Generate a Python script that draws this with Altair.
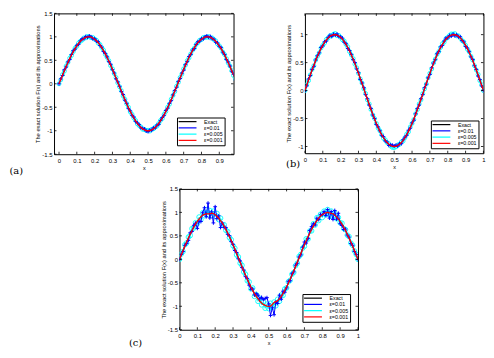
import altair as alt
import pandas as pd

# ---------------- data ----------------
x_vals = [0.00, 0.01, 0.02, 0.03, 0.04, 0.05, 0.06, 0.07, 0.08, 0.09,
          0.10, 0.11, 0.12, 0.13, 0.14, 0.15, 0.16, 0.17, 0.18, 0.19,
          0.20, 0.21, 0.22, 0.23, 0.24, 0.25, 0.26, 0.27, 0.28, 0.29,
          0.30, 0.31, 0.32, 0.33, 0.34, 0.35, 0.36, 0.37, 0.38, 0.39,
          0.40, 0.41, 0.42, 0.43, 0.44, 0.45, 0.46, 0.47, 0.48, 0.49,
          0.50, 0.51, 0.52, 0.53, 0.54, 0.55, 0.56, 0.57, 0.58, 0.59,
          0.60, 0.61, 0.62, 0.63, 0.64, 0.65, 0.66, 0.67, 0.68, 0.69,
          0.70, 0.71, 0.72, 0.73, 0.74, 0.75, 0.76, 0.77, 0.78, 0.79,
          0.80, 0.81, 0.82, 0.83, 0.84, 0.85, 0.86, 0.87, 0.88, 0.89,
          0.90, 0.91, 0.92, 0.93, 0.94, 0.95, 0.96, 0.97, 0.98, 0.99, 1.00]

exact = [0.000, 0.094, 0.187, 0.279, 0.368, 0.454, 0.536, 0.613, 0.685, 0.750,
         0.809, 0.861, 0.905, 0.941, 0.969, 0.988, 0.998, 1.000, 0.992, 0.976,
         0.951, 0.918, 0.876, 0.827, 0.771, 0.707, 0.637, 0.562, 0.482, 0.397,
         0.309, 0.218, 0.125, 0.031, -0.063, -0.156, -0.249, -0.339, -0.426, -0.509,
         -0.588, -0.661, -0.729, -0.790, -0.844, -0.891, -0.930, -0.960, -0.982, -0.996,
         -1.000, -0.996, -0.982, -0.960, -0.930, -0.891, -0.844, -0.790, -0.729, -0.661,
         -0.588, -0.509, -0.426, -0.339, -0.249, -0.156, -0.063, 0.031, 0.125, 0.218,
         0.309, 0.397, 0.482, 0.562, 0.637, 0.707, 0.771, 0.827, 0.876, 0.918,
         0.951, 0.976, 0.992, 1.000, 0.998, 0.988, 0.969, 0.941, 0.905, 0.861,
         0.809, 0.750, 0.685, 0.613, 0.536, 0.454, 0.368, 0.279, 0.187, 0.094, 0.000]

# deviations of the approximations from the exact curve, panel (a)
a_blue_dev = [0.00, 0.01, -0.01, 0.02, -0.01, 0.01, -0.02, 0.01, 0.02, -0.01,
              0.01, -0.02, 0.01, 0.02, -0.01, 0.02, -0.01, 0.02, 0.01, -0.02,
              0.01, -0.01, 0.02, -0.01, 0.01, -0.02, 0.01, 0.01, -0.01, 0.02,
              -0.01, 0.01, -0.02, 0.01, 0.01, -0.01, 0.02, -0.01, 0.01, -0.02,
              0.01, -0.01, 0.02, -0.01, 0.01, 0.02, -0.01, 0.01, 0.02, -0.01,
              -0.02, 0.01, -0.01, 0.02, -0.01, 0.01, -0.02, 0.01, 0.01, -0.01,
              0.02, -0.01, 0.01, -0.02, 0.01, 0.01, -0.01, 0.02, -0.01, 0.01,
              -0.02, 0.01, -0.01, 0.02, -0.01, 0.01, -0.02, 0.01, 0.02, -0.01,
              0.01, -0.02, 0.01, 0.02, -0.01, 0.02, -0.01, 0.01, -0.02, 0.01,
              -0.01, 0.02, -0.01, 0.01, -0.02, 0.01, 0.01, -0.01, 0.02, -0.01, 0.00]
a_cyan_dev = [0.00, -0.01, 0.01, -0.01, 0.01, 0.00, 0.01, -0.01, 0.00, 0.01,
              -0.01, 0.01, 0.00, -0.01, 0.01, -0.01, 0.01, 0.00, -0.01, 0.01,
              0.00, 0.01, -0.01, 0.01, 0.00, 0.01, -0.01, 0.00, 0.01, -0.01,
              0.01, 0.00, 0.01, -0.01, 0.00, 0.01, -0.01, 0.01, 0.00, 0.01,
              -0.01, 0.01, 0.00, 0.01, -0.01, 0.00, 0.01, -0.01, 0.01, 0.00,
              0.01, -0.01, 0.01, 0.00, 0.01, -0.01, 0.00, 0.01, -0.01, 0.01,
              0.00, 0.01, -0.01, 0.01, 0.00, -0.01, 0.01, 0.00, 0.01, -0.01,
              0.01, 0.00, 0.01, -0.01, 0.00, 0.01, -0.01, 0.01, 0.00, 0.01,
              -0.01, 0.01, 0.00, -0.01, 0.01, -0.01, 0.01, 0.00, 0.01, -0.01,
              0.00, 0.01, -0.01, 0.01, 0.00, -0.01, 0.01, 0.00, -0.01, 0.01, 0.00]

# panel (b)
b_blue_dev = [0.00, -0.01, 0.02, -0.01, 0.01, -0.02, 0.01, 0.01, -0.01, 0.02,
              -0.01, 0.01, -0.02, 0.01, 0.02, -0.02, 0.01, -0.01, 0.02, -0.01,
              0.01, 0.02, -0.01, 0.01, -0.02, 0.01, 0.01, -0.01, 0.02, -0.01,
              0.01, -0.02, 0.01, 0.02, -0.01, 0.01, -0.01, 0.02, -0.01, 0.01,
              -0.02, 0.01, 0.01, -0.01, 0.02, -0.01, 0.01, -0.02, 0.01, 0.02,
              0.01, 0.02, -0.01, 0.01, -0.02, 0.01, 0.01, -0.01, 0.02, -0.01,
              0.01, -0.02, 0.01, 0.02, -0.01, 0.01, -0.01, 0.02, -0.01, 0.01,
              -0.02, 0.01, 0.01, -0.01, 0.02, -0.01, 0.01, -0.02, 0.01, 0.02,
              -0.01, 0.01, -0.02, 0.01, -0.02, 0.01, -0.01, 0.02, -0.01, 0.01,
              -0.02, 0.01, 0.01, -0.01, 0.02, -0.01, 0.01, -0.02, 0.01, -0.01, 0.00]
b_cyan_dev = [0.00, 0.01, -0.01, 0.00, 0.01, -0.01, 0.01, 0.00, -0.01, 0.01,
              0.00, -0.01, 0.01, 0.00, 0.01, -0.01, 0.01, 0.02, -0.01, 0.01,
              0.00, -0.01, 0.01, 0.00, 0.01, -0.01, 0.00, 0.01, -0.01, 0.01,
              0.00, -0.01, 0.01, 0.00, 0.01, -0.01, 0.01, 0.00, -0.01, 0.01,
              0.00, -0.01, 0.01, 0.00, -0.01, 0.01, 0.00, 0.01, -0.01, -0.02,
              -0.02, -0.01, 0.01, 0.00, 0.01, -0.01, 0.00, 0.01, -0.01, 0.01,
              0.00, -0.01, 0.01, 0.00, 0.01, -0.01, 0.01, 0.00, -0.01, 0.01,
              0.00, -0.01, 0.01, 0.00, 0.01, -0.01, 0.00, 0.01, -0.01, 0.01,
              0.00, 0.01, 0.02, 0.01, 0.02, -0.01, 0.01, 0.00, -0.01, 0.01,
              0.00, -0.01, 0.01, 0.00, 0.01, -0.01, 0.00, 0.01, -0.01, 0.01, 0.00]

# panel (c)
c_blue_dev = [0.00, 0.01, -0.02, 0.02, -0.03, -0.05, 0.03, -0.02, 0.04, 0.02,
              -0.15, -0.05, -0.10, 0.05, 0.13, -0.08, 0.20, -0.12, 0.02, -0.20,
              0.17, -0.05, 0.05, -0.15, 0.00, -0.03, 0.04, -0.03, 0.02, -0.02,
              0.01, -0.03, 0.02, -0.02, 0.03, -0.02, 0.02, -0.03, 0.02, -0.04,
              -0.05, 0.03, -0.03, 0.06, 0.08, 0.05, 0.12, 0.10, 0.15, 0.18,
              0.05, -0.20, -0.05, -0.22, 0.02, -0.05, 0.08, -0.06, 0.05, -0.04,
              -0.02, 0.04, -0.03, 0.03, -0.02, 0.03, -0.02, 0.02, -0.03, 0.04,
              0.06, -0.05, -0.04, 0.05, 0.06, 0.05, -0.04, 0.05, -0.03, 0.04,
              0.00, 0.04, -0.06, 0.06, -0.12, 0.03, -0.12, 0.10, -0.05, 0.12,
              -0.05, -0.03, -0.05, 0.03, -0.02, 0.02, -0.03, 0.02, -0.02, 0.01, 0.00]
c_cyan_dev = [0.00, 0.02, -0.02, 0.03, -0.02, 0.02, -0.03, 0.04, -0.02, 0.03,
              -0.05, 0.04, -0.06, 0.05, -0.04, 0.07, -0.05, 0.04, -0.06, 0.05,
              -0.04, 0.06, -0.03, 0.05, -0.04, 0.03, -0.02, 0.03, -0.02, 0.02,
              -0.02, 0.02, -0.03, 0.02, -0.02, 0.03, -0.02, 0.02, -0.03, 0.03,
              -0.04, 0.05, -0.06, 0.04, -0.05, 0.06, -0.04, 0.05, -0.06, 0.04,
              -0.05, 0.06, -0.04, 0.05, -0.06, 0.04, -0.05, 0.03, -0.04, 0.03,
              -0.02, 0.03, -0.02, 0.02, -0.03, 0.02, -0.02, 0.03, -0.02, 0.02,
              -0.03, 0.04, -0.05, 0.04, -0.03, 0.05, -0.04, 0.06, -0.05, 0.04,
              -0.06, 0.05, -0.04, 0.06, -0.05, 0.04, -0.06, 0.05, -0.04, 0.03,
              -0.03, 0.02, -0.03, 0.02, -0.02, 0.03, -0.02, 0.02, -0.01, 0.01, 0.00]
c_red_dev = [0.00, 0.00, 0.00, 0.00, 0.00, 0.00, 0.00, 0.00, 0.00, 0.00,
             0.00, 0.00, 0.00, 0.00, -0.01, -0.02, -0.03, -0.03, -0.01, 0.00,
             0.00, 0.00, 0.00, 0.00, 0.00, 0.00, 0.00, 0.00, 0.00, 0.00,
             0.00, 0.00, 0.00, 0.00, 0.00, 0.00, 0.00, 0.00, 0.00, 0.00,
             0.00, 0.00, 0.00, 0.00, 0.00, 0.00, 0.00, 0.00, 0.00, 0.00,
             0.00, 0.00, 0.02, 0.04, 0.03, 0.01, 0.00, 0.00, 0.00, 0.00,
             0.00, 0.00, 0.00, 0.00, 0.00, 0.00, 0.00, 0.00, 0.00, 0.00,
             0.00, 0.00, 0.00, 0.00, 0.00, 0.00, 0.00, 0.00, 0.00, 0.00,
             0.00, 0.00, 0.00, 0.00, -0.01, -0.01, 0.00, 0.00, 0.00, 0.00,
             0.00, 0.00, 0.00, 0.00, 0.00, 0.00, 0.00, 0.00, 0.00, 0.00, 0.00]

series_names = ["Exact", "\u03b5=0.01", "\u03b5=0.005", "\u03b5=0.001"]
series_colors = ["#000000", "#0000ff", "#00ffff", "#ff0000"]

x_ticks_a = [0, 0.1, 0.2, 0.3, 0.4, 0.5, 0.6, 0.7, 0.8, 0.9]
x_ticks_bc = [0, 0.1, 0.2, 0.3, 0.4, 0.5, 0.6, 0.7, 0.8, 0.9, 1]
y_ticks_ac = [-1.5, -1, -0.5, 0, 0.5, 1, 1.5]
y_ticks_b = [-1, -0.5, 0, 0.5, 1]

Y_TITLE = "The exact solution F(x) and its approximations"
FONT = "Liberation Sans"


def panel(blue_dev, cyan_dev, red_dev, xdom, ydom, xticks, yticks, label,
          lab_dx, lab_dy, leg_offset, w, h, cyan_size):
    df = pd.DataFrame({
        "x": x_vals,
        series_names[0]: exact,
        series_names[1]: [e + d for e, d in zip(exact, blue_dev)],
        series_names[2]: [e + d for e, d in zip(exact, cyan_dev)],
        series_names[3]: [e + d for e, d in zip(exact, red_dev)],
    }).melt(id_vars="x", var_name="series", value_name="y")

    xs = alt.Scale(domain=xdom, nice=False, zero=False)
    ys = alt.Scale(domain=ydom, nice=False, zero=False)
    xax = alt.Axis(values=xticks, title="x", labelExpr="datum.value + ''",
                   labelPadding=3, labelFlush=False, titleX=w / 2, titleY=13,
                   titleBaseline="middle", titleFontSize=5.5)
    yax = alt.Axis(values=yticks, title=Y_TITLE, labelExpr="datum.value + ''",
                   labelPadding=2, titleX=-16.5, titleY=h / 2, titleAngle=270,
                   titleAlign="center", titleBaseline="middle")
    legend = alt.Legend(title=None, orient="bottom-right", offset=leg_offset,
                        fillColor="white", strokeColor="black", padding=1.5,
                        labelFont=FONT, labelFontSize=5.3, labelColor="black",
                        symbolType="M-6,0H6", symbolSize=9,
                        symbolStrokeWidth=1.2, symbolOffset=6.5, rowPadding=0.3,
                        labelOffset=14)
    color = alt.Color("series:N", scale=alt.Scale(domain=series_names, range=series_colors),
                      legend=legend)

    base = alt.Chart(df)
    X = alt.X("x:Q", scale=xs, axis=xax)
    Y = alt.Y("y:Q", scale=ys, axis=yax)

    def line(name, sw):
        return base.transform_filter(alt.datum.series == name).mark_line(
            clip=True, strokeWidth=sw).encode(x=X, y=Y, color=color)

    def pts(name, shape, col, size, sw):
        return base.transform_filter(alt.datum.series == name).mark_point(
            clip=True, shape=shape, filled=False, color=col, size=size,
            strokeWidth=sw, opacity=1).encode(x=X, y=Y)

    layers = [
        line(series_names[0], 1.2),
        line(series_names[2], 1.0),
        pts(series_names[2], "circle", "#00ffff", cyan_size, 0.9),
        line(series_names[1], 1.0),
        pts(series_names[1], "M-1,0H1M0,-1V1", "#0000ff", 14, 1.0),
        line(series_names[3], 1.3),
    ]

    xt = alt.Chart(pd.DataFrame({"x": xticks}))
    yt = alt.Chart(pd.DataFrame({"y": yticks}))
    tl = 2.5
    layers += [
        xt.mark_rule(color="black", strokeWidth=0.8).encode(
            x=X, y=alt.value(h), y2=alt.value(h - tl)),
        xt.mark_rule(color="black", strokeWidth=0.8).encode(
            x=X, y=alt.value(0), y2=alt.value(tl)),
        yt.mark_rule(color="black", strokeWidth=0.8).encode(
            y=Y, x=alt.value(0), x2=alt.value(tl)),
        yt.mark_rule(color="black", strokeWidth=0.8).encode(
            y=Y, x=alt.value(w), x2=alt.value(w - tl)),
        alt.Chart(pd.DataFrame({"t": [label]})).mark_text(
            font="DejaVu Serif", fontSize=10, align="left", baseline="middle",
            color="black").encode(text="t:N", x=alt.value(lab_dx), y=alt.value(h + lab_dy)),
    ]
    return alt.layer(*layers).properties(width=w, height=h)


pa = panel(a_blue_dev, a_cyan_dev, [0.0 for _ in exact], [-0.028, 0.98], [-1.5, 1.5],
           x_ticks_a, y_ticks_ac, "(a)", -45, 17, 9, 181, 142, 16)
pb = panel(b_blue_dev, b_cyan_dev, [0.0 for _ in exact], [0, 1], [-1.12, 1.38],
           x_ticks_bc, y_ticks_b, "(b)", -19, 11, 5, 180, 141, 16)
pc = panel(c_blue_dev, c_cyan_dev, c_red_dev, [0, 1], [-1.5, 1.5],
           x_ticks_bc, y_ticks_ac, "(c)", -51, 13, 8, 180, 142, 22)

top = alt.hconcat(pa, pb, spacing=50).resolve_scale(color="independent").resolve_legend(
    color="independent")
chart = alt.vconcat(top, pc, spacing=8, center=True).resolve_scale(
    color="independent").resolve_legend(color="independent").properties(
    padding=0
).configure_view(stroke="black", strokeWidth=1).configure_axis(
    labelFont=FONT, labelFontSize=6, labelColor="black",
    titleFont=FONT, titleFontSize=5.8, titleFontWeight="normal", titleColor="black",
    grid=False, domain=False, ticks=False
).configure_legend(cornerRadius=0)

chart.save("out.html", embed_options={"renderer": "svg", "actions": False})
